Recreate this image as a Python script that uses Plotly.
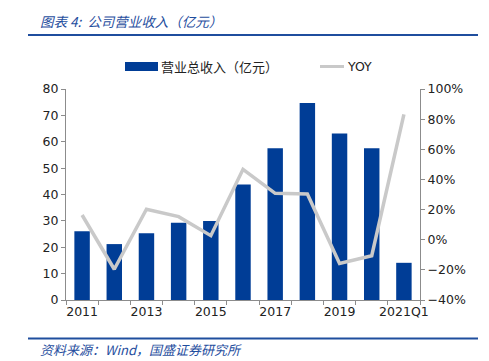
import plotly.graph_objects as go

categories = ["2011", "2012", "2013", "2014", "2015", "2016", "2017", "2018", "2019", "2020", "2021Q1"]
tick_labels = ["2011", "", "2013", "", "2015", "", "2017", "", "2019", "", "2021Q1"]
revenue = [26.1, 21.2, 25.3, 29.3, 30.0, 43.8, 57.5, 74.7, 63.1, 57.5, 14.1]
yoy = [16.4, -19.6, 20.2, 15.3, 2.7, 46.7, 30.8, 30.3, -15.7, -10.6, 83.2]

BLUE = "#003D96"
GRAY = "#C9C9C9"
TITLE_BLUE = "#1F4E9E"
AXIS = "#8C8C8C"
FONT = "DejaVu Sans"
CJK = "Noto Sans CJK SC"

W, H = 489, 361
L, R, T, B = 66, 69, 89, 61
pw, ph = W - L - R, H - T - B


def px(x):
    return (x - L) / pw


def py(y):
    return (H - B - y) / ph


fig = go.Figure()
fig.add_trace(go.Bar(x=categories, y=revenue, name="营业总收入（亿元）",
                     marker=dict(color=BLUE, line=dict(width=0)), yaxis="y"))
fig.add_trace(go.Scatter(x=categories, y=yoy, name="YOY", mode="lines",
                         line=dict(color=GRAY, width=3.5), yaxis="y2"))

fig.update_layout(
    width=W, height=H,
    margin=dict(l=L, r=R, t=T, b=B, autoexpand=False),
    plot_bgcolor="white", paper_bgcolor="white",
    showlegend=False,
    bargap=0.52,
    font=dict(family=FONT, size=12, color="#222222"),
    xaxis=dict(type="category", tickmode="array", tickvals=categories, ticktext=tick_labels,
               tickson="boundaries", ticks="outside", ticklen=4, tickcolor=AXIS, tickangle=0,
               showline=True, linecolor=AXIS, linewidth=1, showgrid=False, automargin=False,
               tickfont=dict(size=12.5)),
    yaxis=dict(range=[0, 80], dtick=10, ticks="outside", ticklen=4, tickcolor=AXIS,
               showline=True, linecolor=AXIS, linewidth=1, showgrid=False, zeroline=False,
               automargin=False, tickfont=dict(size=12.5)),
    yaxis2=dict(range=[-40, 100], dtick=20, ticksuffix="%", overlaying="y", side="right",
                ticks="outside", ticklen=4, tickcolor=AXIS, automargin=False,
                showline=True, linecolor=AXIS, linewidth=1, showgrid=False, zeroline=False,
                tickfont=dict(size=12.5)),
)

# Title, rules, source
fig.add_annotation(text="图表 4:  公司营业收入（亿元）", x=px(38), y=py(21), xref="paper", yref="paper",
                   showarrow=False, xanchor="left", yanchor="middle",
                   font=dict(family=CJK, size=13.5, color=TITLE_BLUE, style="italic"))
fig.add_annotation(text="资料来源：Wind，国盛证券研究所", x=px(38), y=py(349), xref="paper", yref="paper",
                   showarrow=False, xanchor="left", yanchor="middle",
                   font=dict(family=CJK, size=13, color=TITLE_BLUE, style="italic"))

fig.add_shape(type="line", xref="paper", yref="paper", x0=px(28), x1=px(478), y0=py(35), y1=py(35),
              line=dict(color=TITLE_BLUE, width=2))
fig.add_shape(type="line", xref="paper", yref="paper", x0=px(28), x1=px(478), y0=py(338.5), y1=py(338.5),
              line=dict(color=TITLE_BLUE, width=2))

# Legend (manual)
fig.add_shape(type="rect", xref="paper", yref="paper", x0=px(125), x1=px(158), y0=py(71), y1=py(62),
              fillcolor=BLUE, line=dict(width=0))
fig.add_annotation(text="营业总收入（亿元）", x=px(159), y=py(66.5), xref="paper", yref="paper",
                   showarrow=False, xanchor="left", yanchor="middle",
                   font=dict(family=CJK, size=13, color="#222222"))
fig.add_shape(type="line", xref="paper", yref="paper", x0=px(320), x1=px(344), y0=py(66.5), y1=py(66.5),
              line=dict(color=GRAY, width=3))
fig.add_annotation(text="YOY", x=px(345), y=py(66.5), xref="paper", yref="paper",
                   showarrow=False, xanchor="left", yanchor="middle",
                   font=dict(family=FONT, size=12.5, color="#222222"))

fig.write_html("out.html", config={"displayModeBar": False},
               post_script="document.body.style.margin='0';")
